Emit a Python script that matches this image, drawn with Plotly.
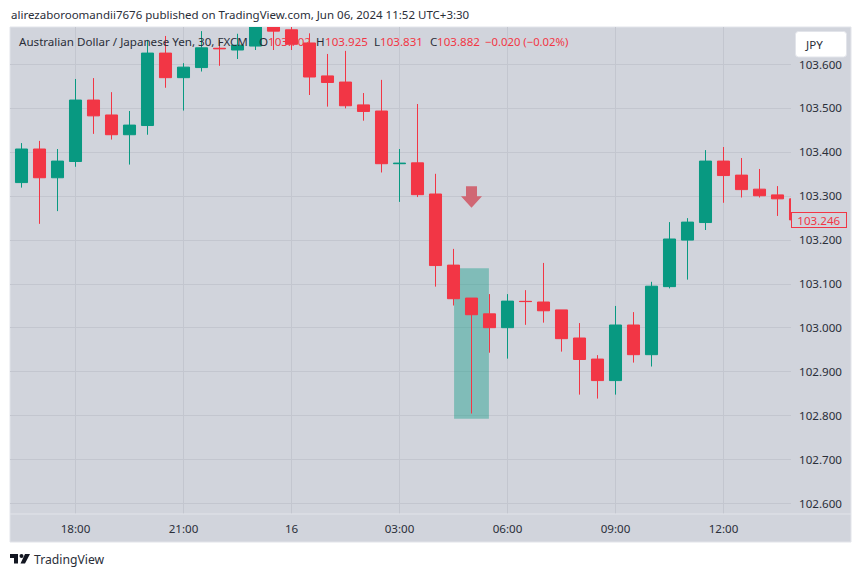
import plotly.graph_objects as go

# candles, 30 minute bars
times = ["2024-05-15 16:30", "2024-05-15 17:00", "2024-05-15 17:30", "2024-05-15 18:00", "2024-05-15 18:30",
         "2024-05-15 19:00", "2024-05-15 19:30", "2024-05-15 20:00", "2024-05-15 20:30", "2024-05-15 21:00",
         "2024-05-15 21:30", "2024-05-15 22:00", "2024-05-15 22:30", "2024-05-15 23:00", "2024-05-15 23:30",
         "2024-05-16 00:00", "2024-05-16 00:30", "2024-05-16 01:00", "2024-05-16 01:30", "2024-05-16 02:00",
         "2024-05-16 02:30", "2024-05-16 03:00", "2024-05-16 03:30", "2024-05-16 04:00", "2024-05-16 04:30",
         "2024-05-16 05:00", "2024-05-16 05:30", "2024-05-16 06:00", "2024-05-16 06:30", "2024-05-16 07:00",
         "2024-05-16 07:30", "2024-05-16 08:00", "2024-05-16 08:30", "2024-05-16 09:00", "2024-05-16 09:30",
         "2024-05-16 10:00", "2024-05-16 10:30", "2024-05-16 11:00", "2024-05-16 11:30", "2024-05-16 12:00",
         "2024-05-16 12:30", "2024-05-16 13:00", "2024-05-16 13:30", "2024-05-16 14:00"]
opens = [103.331, 103.4075, 103.342, 103.379, 103.519, 103.485, 103.44, 103.461, 103.626, 103.57, 103.593,
         103.637, 103.633, 103.642, 103.70, 103.679, 103.649, 103.574, 103.56, 103.508, 103.494, 103.374,
         103.376, 103.305, 103.143, 103.068, 103.032, 103.0005, 103.0605, 103.059, 103.041, 102.977, 102.929,
         102.88, 103.0066, 102.939, 103.094, 103.20, 103.24, 103.38, 103.348, 103.316, 103.303, 103.294]
highs = [103.421, 103.426, 103.4075, 103.567, 103.569, 103.537, 103.494, 103.656, 103.665, 103.603, 103.676,
         103.656, 103.67, 103.72, 103.72, 103.70, 103.671, 103.624, 103.631, 103.535, 103.565, 103.4075,
         103.51, 103.351, 103.18, 103.068, 103.077, 103.077, 103.086, 103.148, 103.041, 103.011, 102.938,
         103.05, 103.036, 103.105, 103.241, 103.25, 103.405, 103.412, 103.387, 103.362, 103.323, 103.298]
lows = [103.3195, 103.237, 103.266, 103.367, 103.442, 103.429, 103.372, 103.44, 103.547, 103.495, 103.584,
        103.597, 103.6125, 103.633, 103.633, 103.633, 103.5305, 103.504, 103.5, 103.472, 103.354, 103.287,
        103.298, 103.094, 103.051, 102.805, 102.9435, 102.93, 103.007, 103.012, 102.946, 102.848, 102.839,
        102.848, 102.921, 102.912, 103.09, 103.11, 103.223, 103.285, 103.297, 103.297, 103.255, 103.246]
closes = [103.4075, 103.342, 103.38, 103.519, 103.483, 103.44, 103.462, 103.626, 103.57, 103.594, 103.638,
          103.636, 103.644, 103.69, 103.676, 103.646, 103.5715, 103.559, 103.506, 103.493, 103.374, 103.375,
          103.3035, 103.142, 103.0665, 103.03, 103.0005, 103.061, 103.06, 103.039, 102.9755, 102.928, 102.88,
          103.0066, 102.939, 103.095, 103.2025, 103.241, 103.38, 103.347, 103.315, 103.301, 103.294, 103.246]

x_ticks = ["2024-05-15 18:00", "2024-05-15 21:00", "2024-05-16 00:00", "2024-05-16 03:00",
           "2024-05-16 06:00", "2024-05-16 09:00", "2024-05-16 12:00"]
x_labels = ["18:00", "21:00", "16", "03:00", "06:00", "09:00", "12:00"]
y_ticks = [102.6, 102.7, 102.8, 102.9, 103.0, 103.1, 103.2, 103.3, 103.4, 103.5, 103.6]
y_labels = ["102.600", "102.700", "102.800", "102.900", "103.000", "103.100",
            "103.200", "103.300", "103.400", "103.500", "103.600"]

zone_x = ["2024-05-16 04:31", "2024-05-16 05:29"]
zone_y = [102.793, 103.136]
arrow_time = "2024-05-16 05:00"
arrow_price = 103.30
last_price = closes[-1]

GREEN = "#089981"
RED = "#f23645"
BG = "#d1d4dc"
GRID = "#c3c6cf"
EDGE = "#e2e4ea"
TEXT = "#2a2e39"
FONT = "Noto Sans"

# plot area in window pixels
LEFT, RIGHT, TOP, BOTTOM = 10, 791, 27, 514


def px(x):
    return (x - LEFT) / (RIGHT - LEFT)


def py(y):
    return (BOTTOM - y) / (BOTTOM - TOP)


fig = go.Figure()
fig.add_trace(go.Candlestick(
    x=times, open=opens, high=highs, low=lows, close=closes,
    increasing=dict(line=dict(color=GREEN, width=1), fillcolor=GREEN),
    decreasing=dict(line=dict(color=RED, width=1), fillcolor=RED),
    whiskerwidth=0,
    showlegend=False,
))

# grey frame behind everything, logo, button
fig.add_shape(type="rect", xref="paper", yref="paper", layer="below",
              x0=px(10), x1=px(851), y0=py(542), y1=py(27),
              fillcolor=BG, line=dict(color=EDGE, width=1))
fig.add_shape(type="rect", x0=zone_x[0], x1=zone_x[1], y0=zone_y[0], y1=zone_y[1],
              layer="between", fillcolor=GREEN, opacity=0.4, line_width=0)
fig.add_shape(type="line", xref="paper", yref="paper",
              x0=px(10), x1=px(851), y0=py(514), y1=py(514),
              line=dict(color=EDGE, width=1))
fig.add_shape(type="path", xsizemode="pixel", ysizemode="pixel",
              xanchor=arrow_time, yanchor=arrow_price,
              path="M-5.5 10 L5.5 10 L5.5 0 L10.5 0 L0 -11.5 L-10.5 0 L-5.5 0 Z",
              fillcolor="#d06774", line_width=0)

# JPY button
b0, b1, t0, t1 = px(795.5), px(846.5), py(31.5), py(57)
dx, dy = 3 / 781, 3 / 487
fig.add_shape(type="path", xref="paper", yref="paper",
              path=f"M{b0+dx} {t0} L{b1-dx} {t0} Q{b1} {t0} {b1} {t0-dy} L{b1} {t1+dy} "
                   f"Q{b1} {t1} {b1-dx} {t1} L{b0+dx} {t1} Q{b0} {t1} {b0} {t1+dy} "
                   f"L{b0} {t0-dy} Q{b0} {t0} {b0+dx} {t0} Z",
              fillcolor="white", line=dict(color=EDGE, width=1))

# TradingView logo
fig.add_shape(type="path", xref="paper", yref="paper", fillcolor="#131722", line_width=0,
              path=f"M{px(10)} {py(554)} L{px(18)} {py(554)} L{px(18)} {py(563.5)} L{px(14)} {py(563.5)} "
                   f"L{px(14)} {py(558)} L{px(10)} {py(558)} Z "
                   f"M{px(25)} {py(554)} L{px(30)} {py(554)} L{px(25)} {py(563.5)} L{px(20.5)} {py(563.5)} Z")
fig.add_shape(type="circle", xref="paper", yref="paper", fillcolor="#131722", line_width=0,
              x0=px(19.5), x1=px(23.5), y0=py(558), y1=py(554))


def label(text, x, y, size=11.6, color=TEXT, anchor="left"):
    fig.add_annotation(text=text, xref="paper", yref="paper", x=px(x), y=py(y),
                       xanchor=anchor, yanchor="middle", showarrow=False, borderpad=0,
                       font=dict(family=FONT, size=size, color=color))


label("alirezaboroomandii7676 published on TradingView.com, Jun 06, 2024 11:52 UTC+3:30", 10, 14.5, size=11.5)
label("Australian Dollar / Japanese Yen, 30, FXCM", 18, 42)
label("O", 257.5, 42)
label("103.702", 266.5, 42, color=RED)
label("H", 315, 42)
label("103.925", 323.5, 42, color=RED)
label("L", 372.5, 42)
label("103.831", 379, 42, color=RED)
label("C", 429, 42)
label("103.882", 436, 42, color=RED)
label("−0.020 (−0.02%)", 484, 42, size=11.3, color=RED)
label("JPY", 804, 44.5)
label("TradingView", 33, 559.5, size=12.2)

# last price tag
fig.add_annotation(text=f"{last_price:.3f}", xref="paper", yref="y", x=px(791), y=last_price,
                   xanchor="left", yanchor="middle", showarrow=False, width=54, height=14,
                   bgcolor=BG, bordercolor=RED, borderwidth=1, borderpad=0, align="center",
                   font=dict(family=FONT, size=11.6, color=RED))

fig.update_xaxes(
    type="date", range=["2024-05-15 16:10:50", "2024-05-16 13:52:30"],
    tickmode="array", tickvals=x_ticks, ticktext=x_labels, ticklabelstandoff=6,
    showgrid=True, gridcolor=GRID, gridwidth=1, zeroline=False, showline=False,
    rangeslider=dict(visible=False), tickfont=dict(family=FONT, size=11.6, color=TEXT),
)
fig.update_yaxes(
    side="right", range=[102.5761, 103.6854],
    tickmode="array", tickvals=y_ticks, ticktext=y_labels, ticklabelstandoff=7,
    showgrid=True, gridcolor=GRID, gridwidth=1, zeroline=False, showline=False,
    tickfont=dict(family=FONT, size=11.6, color=TEXT),
)
fig.update_layout(
    width=861, height=577, autosize=False, showlegend=False, boxgap=0.33, boxgroupgap=0,
    margin=dict(l=LEFT, r=861 - RIGHT, t=TOP, b=577 - BOTTOM, pad=0),
    paper_bgcolor="white", plot_bgcolor=BG,
    font=dict(family=FONT),
)

fig.write_html("out.html", config=dict(displayModeBar=False),
               post_script="document.body.style.margin='0';")
